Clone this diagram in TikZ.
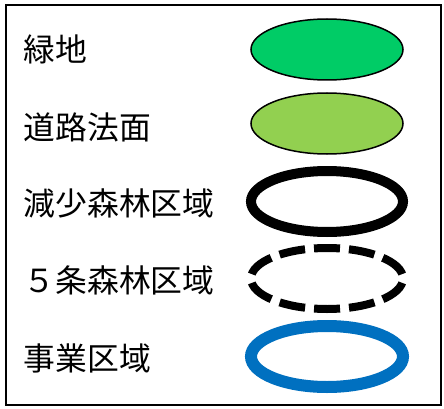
\documentclass[tikz,border=0pt]{standalone}
\usepackage{fontspec}
\newfontfamily\jp{Noto Sans CJK JP}
\usetikzlibrary{shapes.geometric}
\definecolor{greenA}{RGB}{0,204,102}
\definecolor{greenB}{RGB}{146,208,80}
\definecolor{blueA}{RGB}{0,112,192}
\begin{document}
\begin{tikzpicture}[x=1pt,y=-1pt,
  lbl/.style={anchor=west, inner sep=0pt, font=\jp\fontsize{31.8}{31.8}\selectfont},
  oval/.style={ellipse, minimum width=152pt, minimum height=61pt, inner sep=0pt, outer sep=0pt}]
\useasboundingbox (0,0) rectangle (444,409);
\fill[white] (0,0) rectangle (444,409);
\node (frame) [draw, line width=2.5pt, minimum width=435pt, minimum height=400pt, inner sep=0pt] at (223.5,205) {};
\node[lbl] (t1) at (23.5,49) {緑地};
\node[lbl] (t2) at (23.5,127) {道路法面};
\node[lbl] (t3) at (23.5,203) {減少森林区域};
\node[lbl] (t4) at (23.5,280) {５条森林区域};
\node[lbl] (t5) at (23.5,358) {事業区域};
\node[oval, draw=black, fill=greenA, line width=1.5pt] (e1) at (327,49.5) {};
\node[oval, draw=black, fill=greenB, line width=1.5pt] (e2) at (327,123.5) {};
\node[oval, draw=black, line width=10pt] (e3) at (327,201.5) {};
\node[oval, draw=black, line width=8pt, dash pattern=on 26pt off 9pt, dash phase=30.5pt] (e4) at (327,278.5) {};
\node[oval, draw=blueA, line width=12pt] (e5) at (327,356.5) {};
\end{tikzpicture}
\end{document}
